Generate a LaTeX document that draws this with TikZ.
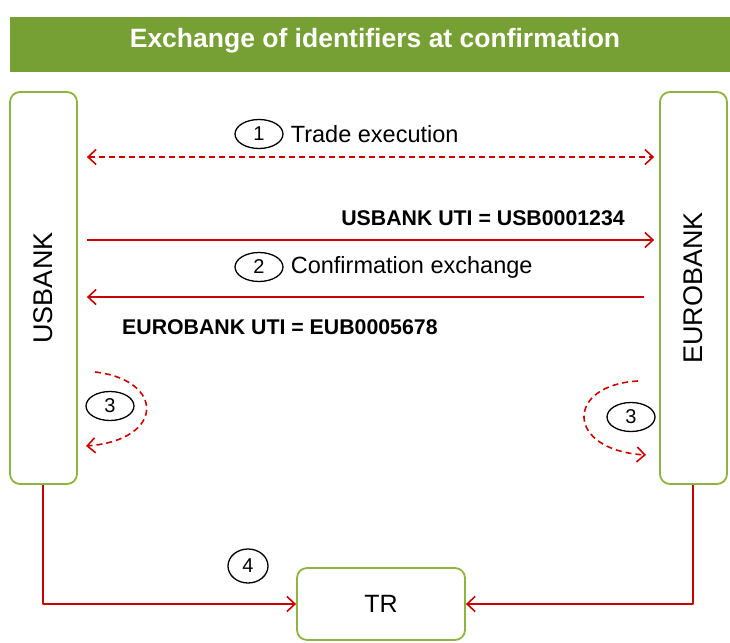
\documentclass[tikz,border=0pt]{standalone}
\usepackage{fontspec}
\setmainfont{Liberation Sans}
\usetikzlibrary{arrows.meta,positioning,shapes.geometric}
\definecolor{hdgreen}{RGB}{119,160,52}
\definecolor{boxgreen}{RGB}{141,180,62}
\definecolor{arrred}{RGB}{204,0,0}
\tikzset{
  bank/.style={draw=boxgreen,line width=1.8pt,rounded corners=10pt,minimum width=67pt,minimum height=392pt},
  num/.style={draw,ellipse,line width=1.3pt,minimum width=48pt,minimum height=29pt,inner sep=0pt,font=\fontsize{20}{24}\selectfont},
  lbl/.style={font=\fontsize{23.5}{28}\selectfont,inner sep=0pt},
  uti/.style={font=\fontsize{21.3}{25}\selectfont\bfseries,inner sep=0pt},
  flow/.style={arrred,line width=1.6pt},
  dflow/.style={flow,dash pattern=on 6pt off 4pt},
}
\begin{document}
\begin{tikzpicture}[x=1pt,y=-1pt,line join=round,>={Straight Barb[length=8pt,width=15pt]}]
\useasboundingbox (0,0) rectangle (730,642);
% title bar
\fill[hdgreen] (10,17) rectangle (730,72);
\node[text=white,font=\fontsize{26.5}{30}\selectfont\bfseries] (title) at (375,41) {Exchange of identifiers at confirmation};
% parties
\node[bank,label={[rotate=90,font=\fontsize{27}{32}\selectfont]center:USBANK}] (usbank) at (43.5,288) {};
\node[bank,label={[rotate=90,font=\fontsize{27}{32}\selectfont]center:EUROBANK}] (eurobank) at (693.5,288) {};
\node[draw=boxgreen,line width=1.8pt,rounded corners=10pt,minimum width=168pt,minimum height=72pt,font=\fontsize{25}{30}\selectfont] (tr) at (381,604) {TR};
% step numbers
\foreach \i/\n/\p in {a/1/{259,134},b/2/{259,267},c/3/{110,406},d/3/{631,417}}
  \node[num] (n\i) at (\p) {\n};
\node[num,minimum width=40pt,minimum height=34pt] (ne) at (248,566) {4};
\node[lbl,right=7pt of na] (trade) {Trade execution};
\node[lbl,right=7pt of nb] (conf) {Confirmation exchange};
\node[uti,anchor=east] (usbuti) at (625,218) {USBANK UTI = USB0001234};
\node[uti,anchor=west] (eubuti) at (122,327) {EUROBANK UTI = EUB0005678};
% exchanges
\draw[dflow,<->,shorten <=9pt,shorten >=5pt] (usbank.east |- 0,157) -- (eurobank.west |- 0,157);
\draw[flow,->,shorten <=9pt,shorten >=5pt] (usbank.east |- 0,240) -- (eurobank.west |- 0,240);
\draw[flow,->,shorten <=15pt,shorten >=9pt] (eurobank.west |- 0,297) -- (usbank.east |- 0,297);
% internal generation
\coordinate (ls) at (95,372); \coordinate (le) at (86,446);
\coordinate (rs) at (638,381); \coordinate (re) at (646,455);
\draw[dflow,->] (ls) .. controls (165,380) and (165,440) .. (le);
\draw[dflow,->] (rs) .. controls (565,385) and (565,450) .. (re);
% reporting
\draw[flow,->] ([xshift=-0.5pt]usbank.south) |- (tr.west);
\draw[flow,->] ([xshift=-0.5pt]eurobank.south) |- (tr.east);
\end{tikzpicture}
\end{document}
